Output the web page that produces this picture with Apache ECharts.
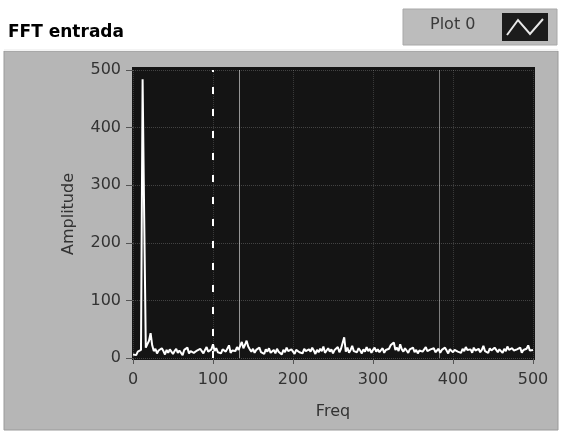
<!DOCTYPE html>
<html>
<head>
<meta charset="utf-8">
<script src="https://cdn.jsdelivr.net/npm/echarts@6/dist/echarts.min.js"></script>
<style>
html, body { margin: 0; padding: 0; background: #fff; }
#fftChart { width: 570px; height: 432px; }
</style>
</head>
<body>
<div id="fftChart"></div>
<script>
// tick labels of both axes
var freqTicks = [0, 100, 200, 300, 400, 500];
var ampTicks = [0, 100, 200, 300, 400, 500];
// spectrum, one value every freqStep Hz from 0 to 500
var freqStep = 2;
var amplitude = [
    6, 9, 5, 11, 8, 14, 484, 243, 18, 24,
    30, 43, 22, 12, 16, 8, 13, 10, 17, 12,
    6, 14, 9, 15, 11, 7, 12, 16, 9, 13,
    10, 5, 14, 11, 18, 8, 12, 15, 9, 6,
    13, 10, 16, 12, 8, 14, 19, 11, 9, 15,
    24, 12, 17, 10, 13, 8, 15, 18, 11, 14,
    22, 9, 13, 16, 12, 19, 14, 21, 28, 17,
    23, 30, 20, 15, 11, 16, 9, 14, 12, 18,
    10, 13, 7, 15, 11, 17, 9, 12, 14, 8,
    16, 11, 13, 6, 14, 10, 18, 12, 9, 15,
    11, 7, 14, 17, 10, 13, 8, 16, 12, 9,
    15, 11, 18, 13, 7, 14, 10, 16, 12, 20,
    9, 13, 17, 11, 15, 8, 14, 12, 19, 10,
    16, 13, 36, 11, 18, 9, 14, 21, 12, 15,
    10, 17, 13, 8, 15, 11, 19, 12, 16, 9,
    14, 18, 11, 15, 10, 13, 17, 9, 14, 12,
    16, 22, 19, 27, 14, 18, 12, 24, 15, 11,
    17, 13, 9, 15, 12, 18, 10, 14, 8, 13,
    16, 11, 14, 19, 12, 9, 15, 13, 17, 10,
    12, 16, 9, 14, 11, 18, 13, 8, 15, 12,
    10, 14, 17, 11, 13, 9, 16, 12, 19, 14,
    11, 15, 9, 18, 13, 12, 16, 10, 14, 21,
    12, 15, 9, 17, 13, 11, 18, 14, 10, 15,
    13, 9, 16, 12, 20, 14, 11, 17, 13, 10,
    15, 12, 18, 9, 14, 11, 16, 22, 13, 12,
    14
];
var cursorFreq = 100;      // dashed cursor
var faintLines = [133, 383]; // light vertical streaks

function init(){
    var chart = echarts.init(document.getElementById("fftChart"));
    var points = [];
    for (var i = 0; i < amplitude.length; i++) {
        points.push([i * freqStep, amplitude[i]]);
    }
    var font = 'DejaVu Sans';
    var option = {
        animation: false,
        backgroundColor: '#ffffff',
        graphic: [
            // grey panel behind the graph
            { type: 'rect', z: -10, shape: { x: 4, y: 51, width: 554, height: 379 },
              style: { fill: '#b6b6b6', stroke: '#9a9a9a', lineWidth: 1 } },
            { type: 'line', z: -9, shape: { x1: 4, y1: 50, x2: 558, y2: 50 },
              style: { stroke: '#f4f4f4', lineWidth: 2 } },
            // dark plot backdrop
            { type: 'rect', z: -5, shape: { x: 132, y: 67, width: 403, height: 293 },
              style: { fill: '#141414' } },
            // title
            { type: 'text', left: 8, top: 24,
              style: { text: 'FFT entrada', font: 'bold 17px "DejaVu Sans"', fill: '#000' } },
            // legend box
            { type: 'rect', shape: { x: 403, y: 9, width: 154, height: 36 },
              style: { fill: '#bcbcbc', stroke: '#a8a8a8', lineWidth: 1 } },
            { type: 'text', left: 430, top: 17,
              style: { text: 'Plot 0', font: '16px "DejaVu Sans"', fill: '#3a3a3a' } },
            { type: 'rect', shape: { x: 502, y: 13, width: 46, height: 28 },
              style: { fill: '#1c1c1c' } },
            { type: 'polyline', shape: { points: [[507, 35], [518, 20], [530, 34], [543, 19]] },
              style: { stroke: '#e8e8e8', lineWidth: 2, fill: null } }
        ],
        grid: {
            left: 133,
            right: 37,
            top: 70,
            bottom: 74
        },
        xAxis: {
            type: 'value',
            min: freqTicks[0],
            max: freqTicks[freqTicks.length - 1],
            interval: 100,
            name: 'Freq',
            nameLocation: 'middle',
            nameGap: 46,
            nameTextStyle: { color: '#333', fontSize: 16, fontFamily: font },
            axisLine: { show: false },
            axisTick: { show: true, length: 6, lineStyle: { color: '#555' } },
            axisLabel: { color: '#333', fontSize: 16, fontFamily: font, margin: 14 },
            splitLine: { show: true, lineStyle: { color: 'rgba(255,255,255,0.16)', type: 'dotted' } }
        },
        yAxis: {
            type: 'value',
            min: ampTicks[0],
            max: ampTicks[ampTicks.length - 1],
            interval: 100,
            name: 'Amplitude',
            nameLocation: 'middle',
            nameGap: 56,
            nameRotate: 90,
            nameTextStyle: { color: '#333', fontSize: 16, fontFamily: font },
            axisLine: { show: false },
            axisTick: { show: true, length: 7, lineStyle: { color: '#555' } },
            axisLabel: { color: '#333', fontSize: 16, fontFamily: font, margin: 12 },
            splitLine: { show: true, lineStyle: { color: 'rgba(255,255,255,0.2)', type: 'dotted' } }
        },
        series: [{
            name: 'Plot 0',
            type: 'line',
            data: points,
            showSymbol: false,
            lineStyle: { color: '#ffffff', width: 2 },
            markLine: {
                silent: true,
                symbol: 'none',
                label: { show: false },
                data: [
                    { xAxis: cursorFreq, lineStyle: { color: '#ffffff', width: 2, type: [7, 15] } },
                    { xAxis: faintLines[0], lineStyle: { color: 'rgba(255,255,255,0.55)', width: 1, type: 'solid' } },
                    { xAxis: faintLines[1], lineStyle: { color: 'rgba(255,255,255,0.45)', width: 1, type: 'solid' } }
                ]
            }
        }]
    };
    chart.setOption(option);
    window.addEventListener('resize', chart.resize);
}
init();
</script>
</body>
</html>
